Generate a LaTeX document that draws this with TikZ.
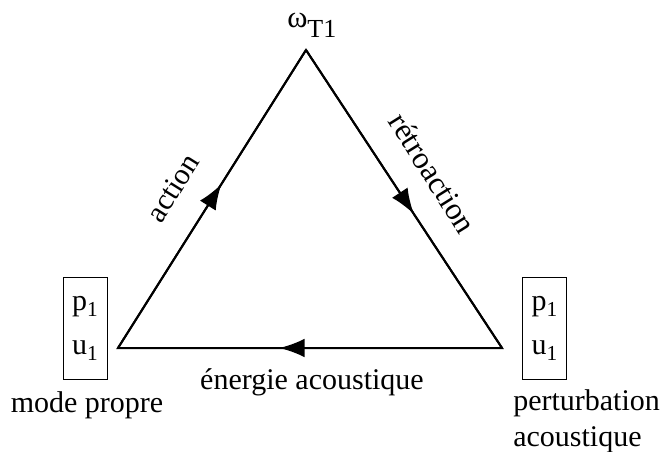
\documentclass[tikz,border=0pt]{standalone}
\usepackage{fontspec}
\setmainfont{Liberation Serif}
\usetikzlibrary{arrows.meta,decorations.markings}
\newcommand{\lowsub}[1]{\raisebox{-5pt}{\fontsize{16}{18}\selectfont #1}}
\tikzset{
  px/.style={x=0.75pt,y=-0.75pt},
  edge/.style={line width=1.5pt},
  midarrow/.style={postaction={decorate},decoration={markings,mark=at position #1 with {\arrow{Latex[length=19pt,width=14pt]}}}},
  varbox/.style={draw,line width=0.6pt,minimum width=33pt,minimum height=77pt,inner sep=0pt,align=center},
  lbl/.style={inner sep=0pt}
}
\begin{document}
\begin{tikzpicture}[px,font=\fontsize{22.5}{27}\selectfont]
\useasboundingbox (0,0) rectangle (660,452);
\coordinate (T) at (306,50);
\coordinate (L) at (118,348);
\coordinate (R) at (502,348);
\draw[edge,midarrow=0.55] (L) -- (T);
\draw[edge,midarrow=0.55] (T) -- (R);
\draw[edge,midarrow=0.58] (R) -- (L);
\draw[edge,line join=miter] (L) -- (T) -- (R) -- cycle;
\node[lbl,anchor=base west] (om) at (287,28) {{\fontsize{23}{26}\selectfont ω}\raisebox{-7pt}{\fontsize{19.5}{22}\selectfont T1}};
\node[varbox] (bl) at (85,328.5) {p\lowsub{1}\\[6pt]u\lowsub{1}};
\node[varbox] (br) at (544.5,328.5) {p\lowsub{1}\\[6pt]u\lowsub{1}};
\node[lbl] (ml) at (87,405) {mode propre};
\node[lbl,anchor=west,align=left] (pl) at (513,421) {perturbation\\acoustique};
\node[lbl] (en) at (312,382) {énergie acoustique};
\node[lbl,rotate=57.9] (ac) at (173,188) {action};
\node[lbl,rotate=-57.9] (re) at (433,173) {\fontsize{23.5}{27}\selectfont rétroaction};
\end{tikzpicture}
\end{document}
